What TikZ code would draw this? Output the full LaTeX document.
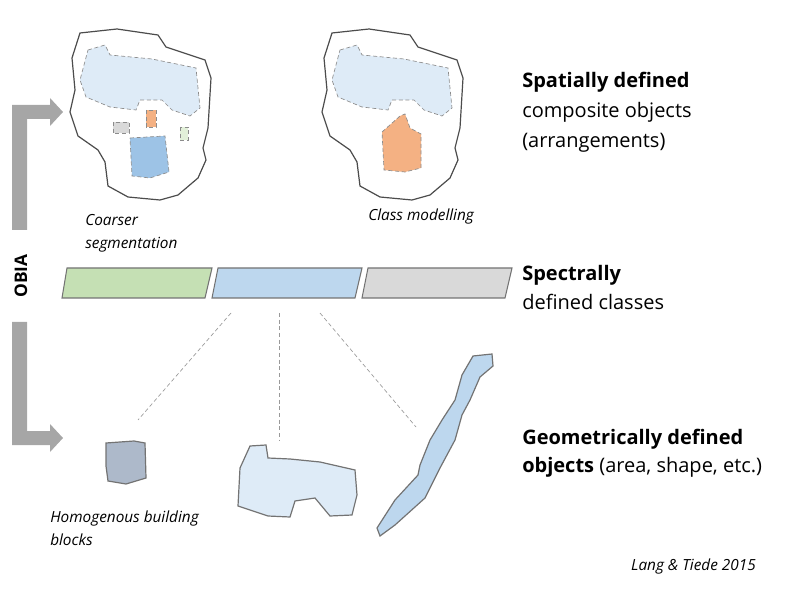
\documentclass[tikz,border=0pt]{standalone}
\usepackage{fontspec}
\setmainfont{Open Sans}
\definecolor{lblue}{HTML}{DEEBF7}
\definecolor{mblue}{HTML}{9DC3E6}
\definecolor{bblue}{HTML}{BDD7EE}
\definecolor{bgreen}{HTML}{C5E0B4}
\definecolor{bgray}{HTML}{D9D9D9}
\definecolor{orng}{HTML}{F4B183}
\definecolor{dgb}{HTML}{ADB9CA}
\definecolor{lgreen}{HTML}{E2F0D9}
\begin{document}
\begin{tikzpicture}[x=0.75pt,y=-0.75pt,
  outer/.style={draw=black!70,line width=0.9pt,fill=white},
  seg/.style={draw=black!45,densely dashed,line width=0.5pt},
  obj/.style={draw=black!55,line width=0.9pt},
  bar/.style={draw=black!55,line width=0.8pt},
  link/.style={draw=black!40,densely dashed,line width=0.5pt},
  arr/.style={fill=black!35,draw=none},
  big/.style={anchor=base west,font=\fontsize{15}{17}\selectfont,inner sep=0pt},
  ital/.style={anchor=base west,font=\fontsize{11.5}{13}\itshape,inner sep=0pt}]
\useasboundingbox (0,0) rectangle (799,591);
% outer blobs
\foreach \dx/\nm in {0/L,252/R}{
\begin{scope}[xshift=\dx*0.75pt]
\draw[outer] (80,33) -- (117,29) -- (158,35) -- (166,47) -- (205,60) -- (211,78) -- (208,128) -- (203,148) -- (206,160) -- (198,178) -- (178,195) -- (160,200) -- (128,197) -- (108,186) -- (105,162) -- (98,150) -- (78,136) -- (70,112) -- (75,90) -- (72,58) -- cycle;
\fill[lblue,seg] (88,50) -- (105,45) -- (110,55) -- (152,59) -- (196,68) -- (200,108) -- (190,116) -- (172,110) -- (162,100) -- (140,100) -- (136,110) -- (110,107) -- (86,97) -- (80,80) -- cycle;
\end{scope}}
\fill[bgray,seg] (113,122) rectangle (129,133);
\fill[orng,seg] (146,110) rectangle (156,127);
\fill[lgreen,seg] (180,127) rectangle (188,140);
\fill[mblue,seg] (130,138) -- (165,136) -- (169,172) -- (150,178) -- (132,176) -- cycle;
\fill[orng,seg] (382,132) -- (400,116) -- (405,114) -- (410,128) -- (421,134) -- (421,168) -- (405,172) -- (384,170) -- cycle;
% bars
\filldraw[bar,fill=bgreen] (62,298) -- (67,268) -- (212,268) -- (205,298) -- cycle;
\filldraw[bar,fill=bblue] (212,298) -- (218,268) -- (362,268) -- (355,298) -- cycle;
\filldraw[bar,fill=bgray] (362,298) -- (368,268) -- (512,268) -- (505,298) -- cycle;
% links
\coordinate (s1) at (138,420); \coordinate (s2) at (279,440); \coordinate (s3) at (416,427);
\coordinate (b1) at (231,313); \coordinate (b2) at (279,313); \coordinate (b3) at (320,313);
\draw[link] (b1) -- (s1); \draw[link] (b2) -- (s2); \draw[link] (b3) -- (s3);
% bottom objects
\filldraw[obj,fill=dgb] (106,443) -- (134,441) -- (145,443) -- (146,478) -- (126,484) -- (108,481) -- (106,466) -- cycle;
\filldraw[obj,fill=lblue] (250,446) -- (266,445) -- (268,458) -- (290,459) -- (320,462) -- (355,470) -- (357,495) -- (352,515) -- (330,516) -- (315,498) -- (295,501) -- (290,517) -- (268,516) -- (238,506) -- (240,468) -- cycle;
\filldraw[obj,fill=bblue] (473,356) -- (492,354) -- (493,366) -- (480,377) -- (470,400) -- (462,415) -- (455,440) -- (440,468) -- (425,498) -- (395,525) -- (380,536) -- (377,528) -- (395,500) -- (418,475) -- (420,465) -- (430,440) -- (442,420) -- (455,400) -- (462,375) -- cycle;
% arrows
\fill[arr] (12,230) -- (12,105) -- (50,105) -- (50,98) -- (63,112) -- (50,126) -- (50,119) -- (27,119) -- (27,230) -- cycle;
\fill[arr] (12,322) -- (27,322) -- (27,431) -- (50,431) -- (50,424) -- (63,438) -- (50,452) -- (50,445) -- (12,445) -- cycle;
\node[rotate=90,font=\fontsize{13}{15}\bfseries] (obia) at (21,276) {OBIA};
% texts
\node[big] (t1) at (522,88) {\textbf{Spatially defined}};
\node[big] (t2) at (522,118) {composite objects};
\node[big] (t3) at (522,148) {(arrangements)};
\node[big] (t4) at (522,281) {\textbf{Spectrally}};
\node[big] (t5) at (522,310) {defined classes};
\node[big] (t6) at (522,444) {\textbf{Geometrically defined}};
\node[big] (t7) at (522,472) {\textbf{objects} (area, shape, etc.)};
\node[ital] (c1) at (85,226) {Coarser};
\node[ital] (c2) at (85,249) {segmentation};
\node[ital] (c3) at (368,221) {Class modelling};
\node[ital] (h1) at (50,522) {Homogenous building};
\node[ital] (h2) at (50,545) {blocks};
\node[ital,anchor=base east] (lt) at (756,570) {Lang \& Tiede 2015};
\end{tikzpicture}
\end{document}
